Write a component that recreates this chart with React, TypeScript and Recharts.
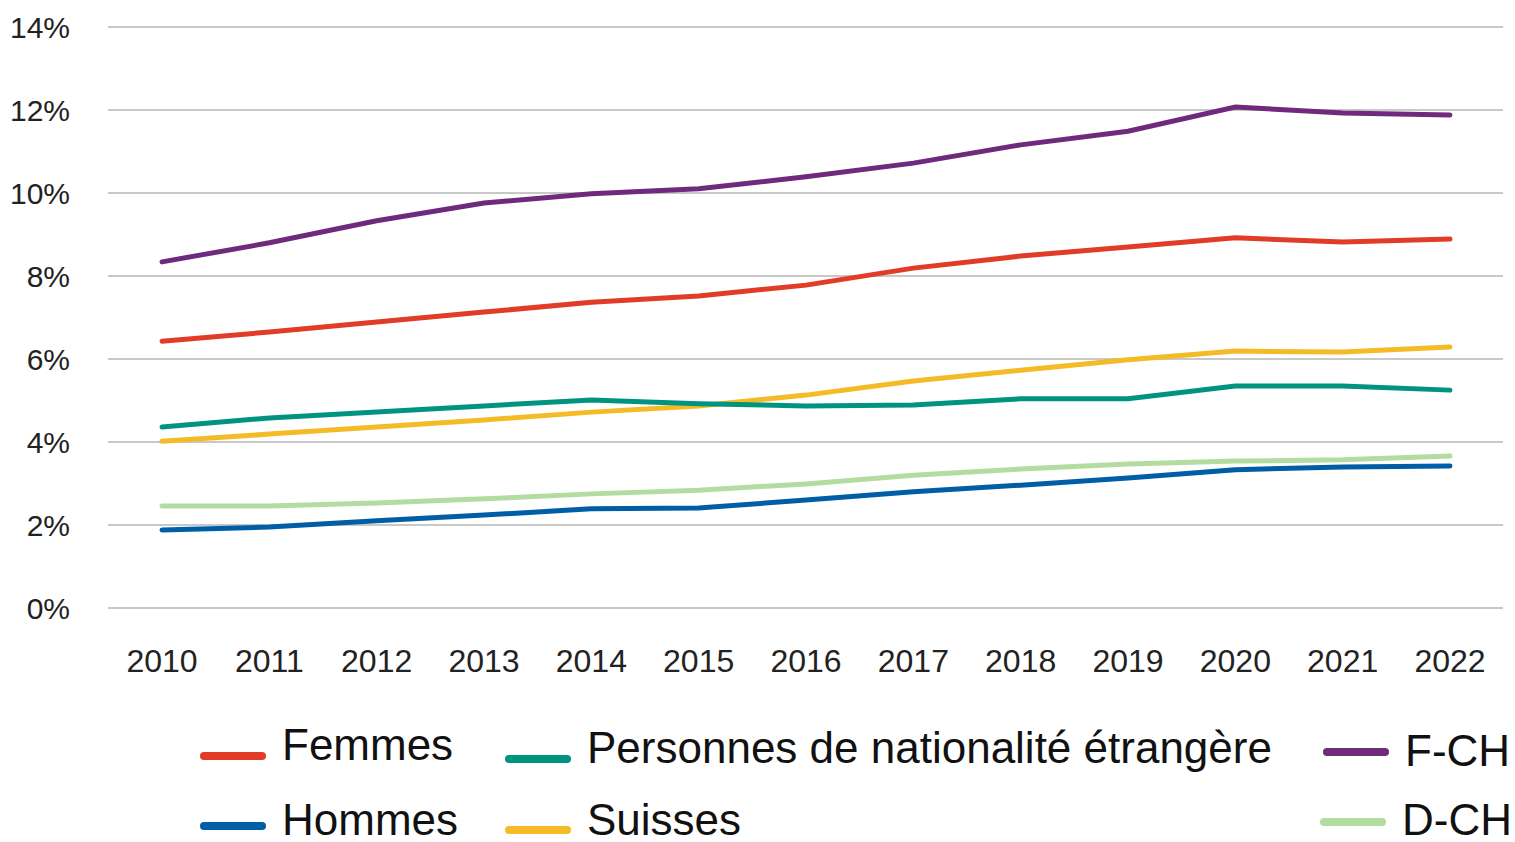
import { CartesianGrid, Legend, Line, LineChart, XAxis, YAxis } from "recharts"

const years = ["2010", "2011", "2012", "2013", "2014", "2015", "2016", "2017", "2018", "2019", "2020", "2021", "2022"]

const femmes = [6.43, 6.65, 6.89, 7.13, 7.37, 7.52, 7.78, 8.19, 8.48, 8.7, 8.92, 8.82, 8.89]
const hommes = [1.88, 1.95, 2.1, 2.24, 2.39, 2.41, 2.6, 2.8, 2.96, 3.13, 3.33, 3.4, 3.42]
const etrangers = [4.36, 4.58, 4.72, 4.87, 5.01, 4.92, 4.87, 4.89, 5.04, 5.04, 5.35, 5.35, 5.25]
const suisses = [4.02, 4.19, 4.36, 4.53, 4.72, 4.87, 5.13, 5.47, 5.73, 5.98, 6.19, 6.17, 6.29]
const fch = [8.34, 8.8, 9.33, 9.76, 9.98, 10.1, 10.39, 10.72, 11.16, 11.49, 12.07, 11.93, 11.88]
const dch = [2.46, 2.46, 2.53, 2.63, 2.75, 2.84, 2.99, 3.2, 3.35, 3.47, 3.54, 3.57, 3.66]

const yTicks = [0, 2, 4, 6, 8, 10, 12, 14]

const data = years.map((year, i) => ({
  year,
  femmes: femmes[i],
  hommes: hommes[i],
  etrangers: etrangers[i],
  suisses: suisses[i],
  fch: fch[i],
  dch: dch[i],
}))

// drawing order follows the reference (lower lines first)
const series = [
  { key: "dch", name: "D-CH", color: "#b3dca0" },
  { key: "hommes", name: "Hommes", color: "#005ea6" },
  { key: "suisses", name: "Suisses", color: "#f5bb27" },
  { key: "etrangers", name: "Personnes de nationalité étrangère", color: "#009480" },
  { key: "femmes", name: "Femmes", color: "#e03c28" },
  { key: "fch", name: "F-CH", color: "#6f2a7e" },
]

// legend slots: [left, top, swatch offset] per series key
const legendSlots: Record<string, [number, number, number]> = {
  femmes: [200, 35, 11],
  etrangers: [505, 38, 11],
  fch: [1323, 41, 1],
  hommes: [200, 110, 6],
  suisses: [505, 110, 10],
  dch: [1320, 110, 2],
}

const font = "'Liberation Sans', Arial, sans-serif"

function ChartLegend() {
  return (
    <div style={{ position: "relative", width: 1515, height: 134, fontFamily: font }}>
      {series.map((s) => {
        const [left, top, dy] = legendSlots[s.key]
        return (
          <div
            key={s.key}
            style={{
              position: "absolute",
              left,
              top,
              height: 44,
              display: "flex",
              alignItems: "center",
              whiteSpace: "nowrap",
            }}
          >
            <span
              style={{
                display: "inline-block",
                width: 66,
                height: 8,
                borderRadius: 4,
                background: s.color,
                marginRight: 16,
                transform: `translateY(${dy}px)`,
              }}
            />
            <span style={{ fontSize: 44, lineHeight: 1, color: "#111" }}>{s.name}</span>
          </div>
        )
      })}
    </div>
  )
}

export default function App() {
  return (
    <div style={{ position: "absolute", left: 0, top: 0, background: "#fff" }}>
      <LineChart width={1515} height={842} data={data} margin={{ top: 27, right: 12, bottom: 20, left: 0 }}>
        <CartesianGrid vertical={false} stroke="#c8c8c8" strokeWidth={2} />
        <XAxis
          dataKey="year"
          axisLine={false}
          tickLine={false}
          height={80}
          tickMargin={35}
          padding={{ left: 54, right: 53 }}
          tick={{ fill: "#222", fontSize: 32, fontFamily: font }}
        />
        <YAxis
          width={108}
          domain={[0, 14]}
          ticks={yTicks}
          axisLine={false}
          tickLine={false}
          tickSize={0}
          tickMargin={38}
          tickFormatter={(v) => `${v}%`}
          tick={{ fill: "#222", fontSize: 30, fontFamily: font }}
        />
        <Legend verticalAlign="bottom" content={() => <ChartLegend />} />
        {series.map((s) => (
          <Line
            key={s.key}
            dataKey={s.key}
            name={s.name}
            stroke={s.color}
            strokeWidth={5}
            strokeLinecap="round"
            dot={false}
            activeDot={false}
            isAnimationActive={false}
          />
        ))}
      </LineChart>
    </div>
  )
}
